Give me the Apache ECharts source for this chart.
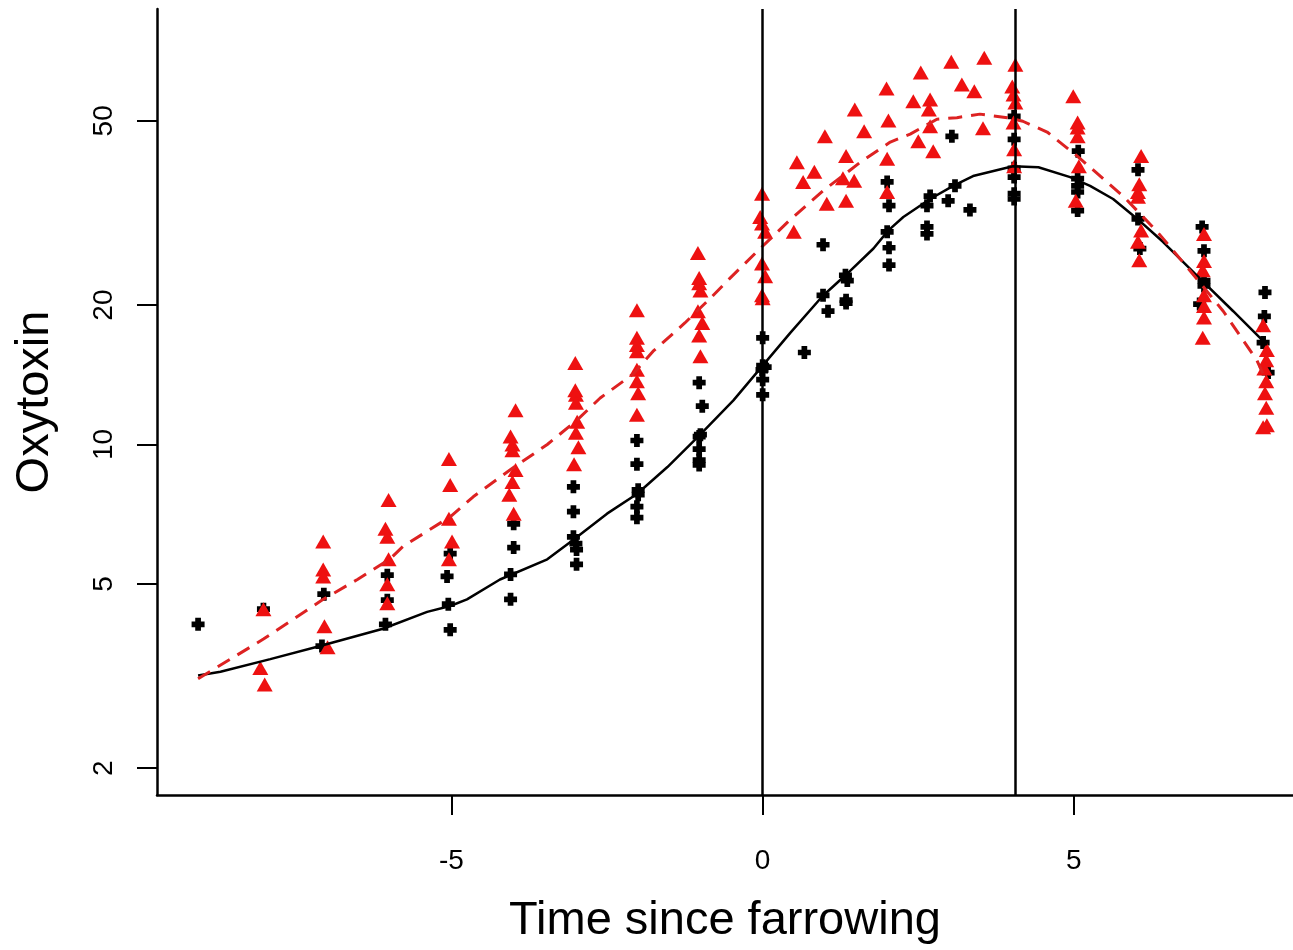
<!DOCTYPE html>
<html>
<head>
<meta charset="utf-8">
<script src="https://cdn.jsdelivr.net/npm/echarts@6/dist/echarts.min.js"></script>
<style>
html,body{margin:0;padding:0;background:#fff;}
#chart{width:1293px;height:950px;}
</style>
</head>
<body>
<div id="chart"></div>
<script>
// ---- data (x = time since farrowing, y = oxytoxin) ----
const xTicks = [-5, 0, 5];
const yTicks = [2, 5, 10, 20, 50];
const vLines = [0, 4.05];

const blackPts = [
  [-9.07,4.09],
  [-8.02,4.41],
  [-7.05,4.75],[-7.08,3.67],
  [-6.03,5.22],[-6.03,4.61],[-6.06,4.09],
  [-5.02,5.81],[-5.07,5.19],[-5.05,4.52],[-5.02,3.98],
  [-4.0,6.74],[-4.0,5.99],[-4.05,5.24],[-4.05,4.63],
  [-3.04,8.10],[-3.04,7.16],[-3.04,6.32],[-3.0,6.11],[-2.99,5.93],[-2.99,5.51],
  [-2.02,10.2],[-2.02,9.07],[-2.0,7.98],[-2.0,7.79],[-2.02,7.34],[-2.02,6.95],
  [-1.02,13.6],[-0.97,12.1],[-1.0,10.5],[-1.02,10.4],[-1.02,9.77],[-1.02,9.25],[-1.02,9.03],
  [0,17.0],[0,14.8],[0.04,14.7],[-0.01,14.5],[0,13.8],[0,12.8],
  [0.67,15.8],
  [0.97,27.0],[0.97,21.0],[1.05,19.4],
  [1.33,23.2],[1.36,22.6],[1.34,20.5],[1.34,20.2],
  [2.0,36.9],[2.03,32.8],[2.0,28.8],[2.03,26.6],[2.03,24.4],
  [2.69,34.4],[2.64,32.8],[2.64,29.5],[2.64,28.5],
  [2.98,33.6],[3.09,36.2],[3.04,46.3],
  [3.33,32.1],
  [4.04,51.1],[4.04,45.6],[4.04,39.5],[4.04,37.8],[4.04,34.8],[4.04,33.9],
  [5.07,43.0],[5.06,37.5],[5.06,36.2],[5.06,35.1],[5.06,32.0],
  [6.03,39.2],[6.03,30.7],[6.06,26.5],
  [7.06,29.5],[7.09,26.2],[7.09,22.6],[7.09,22.0],[7.02,20.1],
  [8.07,21.3],[8.06,18.9],[8.04,16.6],[8.12,14.3]
];

const redPts = [
  [-8.02,4.41],[-8.07,3.29],[-8.0,3.03],
  [-7.06,6.17],[-7.06,5.37],[-7.06,5.19],[-7.04,4.05],[-6.99,3.65],
  [-6.01,7.59],[-6.06,6.58],[-6.03,6.32],[-6.01,5.65],[-6.03,4.99],[-6.03,4.54],
  [-5.04,9.30],[-5.02,8.18],[-5.04,6.91],[-4.99,6.17],[-5.04,5.65],
  [-3.97,11.85],[-4.05,10.4],[-4.02,10.0],[-4.02,9.72],[-3.97,8.81],[-4.02,8.30],[-4.07,7.79],[-4.0,7.09],
  [-3.01,15.0],[-3.01,13.1],[-3.0,12.8],[-3.0,12.3],[-2.98,11.2],[-3.0,10.6],[-2.96,9.87],[-3.03,9.07],
  [-2.02,19.5],[-2.02,17.0],[-2.02,16.4],[-2.02,15.9],[-2.02,14.5],[-2.02,13.7],[-2.0,12.9],[-2.02,11.6],
  [-1.04,25.9],[-1.02,22.9],[-1.02,22.3],[-1.0,21.5],[-1.04,19.4],[-0.97,18.3],[-1.02,17.2],[-1.0,15.5],
  [-0.01,34.8],[-0.04,31.0],[-0.01,30.0],[0.04,28.8],[-0.01,24.6],[0.04,23.1],[-0.01,21.0],[0,20.7],
  [0.55,40.7],[0.5,28.8],[0.65,36.9],[0.83,38.8],[1.0,46.3],[1.03,33.1],
  [1.34,42.0],[1.29,37.6],[1.47,37.1],[1.34,33.6],[1.48,52.9],[1.63,47.5],
  [1.99,58.7],[2.02,50.1],[2.0,41.4],[2.0,35.1],
  [2.42,55.1],[2.54,63.6],[2.69,55.6],[2.67,52.9],[2.69,48.7],[2.5,45.2],[2.74,43.0],
  [3.03,67.1],[3.2,59.9],[3.4,57.9],
  [3.56,68.4],[3.54,48.2],
  [4.06,66.1],[4.01,59.3],[4.03,57.0],[4.06,54.8],[4.03,49.6],[4.04,43.4],[4.04,39.9],
  [4.99,56.5],[5.06,49.6],[5.06,48.4],[5.06,46.3],[5.08,39.9],[5.03,33.6],
  [6.08,42.0],[6.05,36.5],[6.03,35.1],[6.03,34.3],[6.08,29.0],[6.03,27.4],[6.05,25.0],
  [7.09,28.5],[7.09,24.9],[7.07,23.8],[7.09,21.0],[7.09,19.9],[7.09,18.8],[7.07,17.0],
  [8.04,18.1],[8.1,16.0],[8.09,15.2],[8.06,14.6],[8.09,13.7],[8.07,12.9],[8.09,12.0],[8.04,10.9],[8.1,11.0]
];

const blackFit = [
  [-9.07,3.17],[-8.71,3.23],[-7.91,3.44],[-7.11,3.67],[-6.1,4.0],[-5.39,4.35],[-5.02,4.48],
  [-4.75,4.63],[-4.22,5.11],[-3.46,5.65],[-3.04,6.23],[-2.5,7.09],[-2.02,7.82],[-1.53,8.94],
  [-1.0,10.52],[-0.47,12.45],[0,14.8],[0.44,17.4],[0.96,20.9],[1.36,23.4],[1.78,26.5],
  [2.02,29.0],[2.26,31.0],[2.69,33.9],[3.06,36.2],[3.38,38.0],[4.02,39.9],[4.43,39.7],
  [4.94,37.8],[5.26,36.2],[5.63,33.9],[6.02,30.7],[6.43,27.4],[7.07,22.5],[7.56,19.4],
  [7.99,17.0],[8.1,16.4]
];

const redFit = [
  [-9.07,3.12],[-8.02,3.80],[-7.06,4.63],[-6.51,5.11],[-5.98,5.67],[-5.78,6.02],[-5.02,6.98],
  [-4.65,7.71],[-4.06,8.81],[-3.46,10.0],[-2.98,11.3],[-2.61,12.6],[-2.08,14.2],[-1.76,15.9],
  [-1.25,18.3],[-0.84,20.7],[-0.52,22.9],[-0.09,26.1],[0.41,30.3],[0.97,35.3],[1.57,40.7],
  [2.05,45.0],[2.37,46.8],[2.8,50.4],[3.12,50.8],[3.49,51.7],[3.93,50.8],[4.18,49.9],
  [4.57,47.3],[5.05,42.0],[5.79,34.4],[6.34,28.8],[6.87,23.7],[7.4,19.4],[7.94,15.2],[8.04,14.2]
];

// ---- chart ----
const FONT = '"Liberation Sans", Arial, Helvetica, sans-serif';
const crossPath = 'path://M2.8,0 H7.2 V2.8 H10 V7.2 H7.2 V10 H2.8 V7.2 H0 V2.8 H2.8 Z';

const chart = echarts.init(document.getElementById('chart'), null, {renderer: 'canvas'});
chart.setOption({
  animation: false,
  backgroundColor: '#ffffff',
  grid: {left: 157, right: 0, top: 9, bottom: 150, containLabel: false},
  xAxis: {
    type: 'value',
    min: -9.73,
    max: 8.52,
    name: 'Time since farrowing',
    nameLocation: 'middle',
    nameGap: 103,
    nameTextStyle: {fontFamily: FONT, fontSize: 47, color: '#000'},
    axisLine: {show: true, onZero: false, lineStyle: {color: '#000', width: 2.5}},
    axisTick: {show: true, length: 20, customValues: xTicks, lineStyle: {color: '#000', width: 2}},
    axisLabel: {customValues: xTicks, margin: 52, fontFamily: FONT, fontSize: 28, color: '#000'},
    splitLine: {show: false}
  },
  yAxis: {
    type: 'log',
    logBase: 10,
    min: 1.75,
    max: 87.2,
    name: 'Oxytoxin',
    nameLocation: 'middle',
    nameGap: 98,
    nameTextStyle: {fontFamily: FONT, fontSize: 47, color: '#000'},
    axisLine: {show: true, onZero: false, lineStyle: {color: '#000', width: 2.5}},
    axisTick: {show: true, length: 20, customValues: yTicks, lineStyle: {color: '#000', width: 2}},
    axisLabel: {customValues: yTicks, rotate: 90, margin: 39, fontFamily: FONT, fontSize: 28, color: '#000'},
    splitLine: {show: false},
    minorTick: {show: false},
    minorSplitLine: {show: false}
  },
  series: [
    {
      type: 'scatter',
      data: blackPts,
      symbol: crossPath,
      symbolSize: 13,
      itemStyle: {color: '#000', opacity: 1},
      z: 2
    },
    {
      type: 'scatter',
      data: redPts,
      symbol: 'triangle',
      symbolSize: [16, 14],
      itemStyle: {color: '#ee1111', opacity: 1},
      z: 3
    },
    {
      type: 'line',
      data: blackFit,
      showSymbol: false,
      symbol: 'none',
      lineStyle: {color: '#000', width: 2.5, type: 'solid'},
      z: 4,
      markLine: {
        silent: true,
        symbol: 'none',
        label: {show: false},
        lineStyle: {color: '#000', width: 2.5, type: 'solid'},
        data: vLines.map(v => ({xAxis: v}))
      }
    },
    {
      type: 'line',
      data: redFit,
      showSymbol: false,
      symbol: 'none',
      lineStyle: {color: '#dd2222', width: 3, type: [14, 9]},
      z: 4
    }
  ]
});
</script>
</body>
</html>
